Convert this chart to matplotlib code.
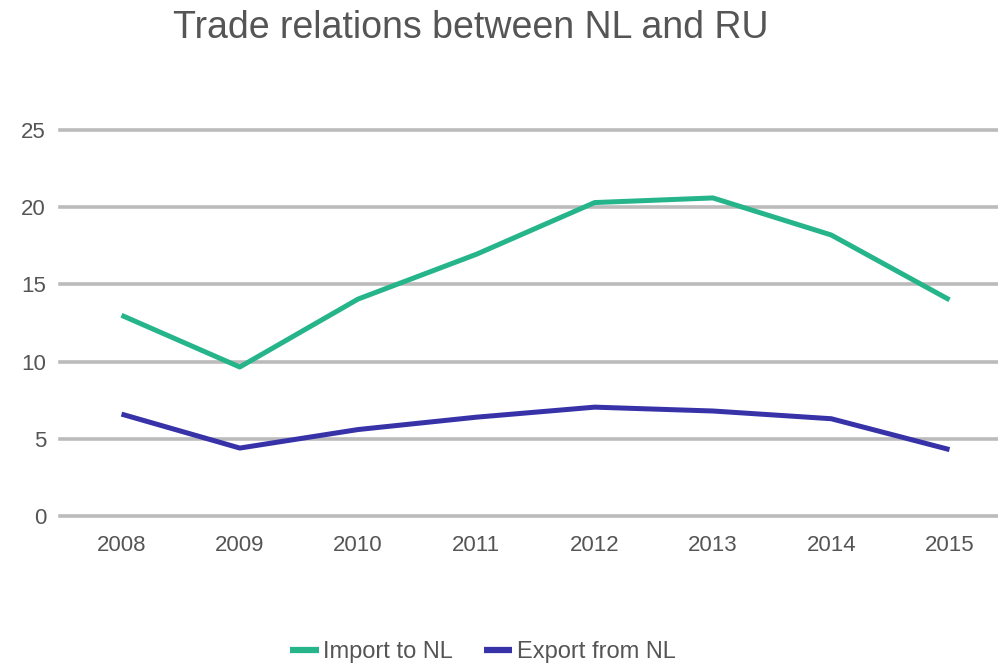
import matplotlib.pyplot as plt

# data
years = ["2008", "2009", "2010", "2011", "2012", "2013", "2014", "2015"]
import_to_nl = [13.0, 9.65, 14.05, 16.95, 20.3, 20.6, 18.2, 14.0]
export_from_nl = [6.6, 4.4, 5.6, 6.4, 7.05, 6.8, 6.3, 4.3]

green = "#26b48b"
blue = "#3732a8"
text_col = "#555555"

plt.rcParams["font.family"] = ["Liberation Sans", "DejaVu Sans"]

fig = plt.figure(figsize=(9.98, 6.64), dpi=100)
# axes placed so 0 -> y=516px, 25 -> y=130px, left edge at x=60px
ax = fig.add_axes([60 / 998, 1 - 516 / 664, 1 - 60 / 998, (516 - 130) / 664])

x = list(range(len(years)))
ax.plot(x, import_to_nl, color=green, lw=3.6, label="Import to NL",
        solid_capstyle="butt", solid_joinstyle="round", zorder=3)
ax.plot(x, export_from_nl, color=blue, lw=3.6, label="Export from NL",
        solid_capstyle="butt", solid_joinstyle="round", zorder=3)

ax.set_xlim(-0.52, 7.41)
ax.set_ylim(0, 25)
ax.set_yticks([0, 5, 10, 15, 20, 25])
ax.set_xticks(x)
ax.set_xticklabels(years)

for y in [0, 5, 10, 15, 20, 25]:
    ax.axhline(y, color="#bbbbbb", lw=2.6, zorder=1, clip_on=False)

for s in ax.spines.values():
    s.set_visible(False)
ax.tick_params(axis="both", length=0, labelsize=16, labelcolor=text_col)
ax.tick_params(axis="y", pad=10)
ax.tick_params(axis="x", pad=14)

fig.text(173 / 998, 1 - 28 / 664, "Trade relations between NL and RU",
         fontsize=27, color=text_col, va="center", ha="left")

leg = fig.legend(loc="center", bbox_to_anchor=(483 / 998, 1 - 652 / 664),
                 ncol=2, frameon=False, fontsize=17, handlelength=1.2,
                 handletextpad=0.2, columnspacing=1.3)
for t in leg.get_texts():
    t.set_color(text_col)
for h in leg.legend_handles:
    h.set_linewidth(4.5)

fig.savefig("out.png", dpi=100)
